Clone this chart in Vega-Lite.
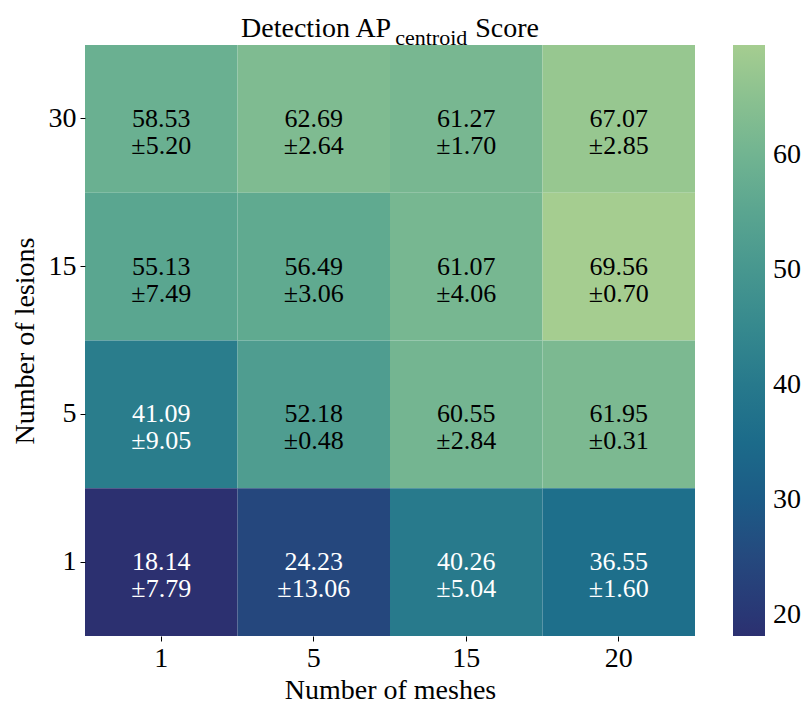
{
  "$schema": "https://vega.github.io/schema/vega-lite/v6.json",
  "autosize": "none",
  "padding": {"left": 85, "top": 45, "right": 108, "bottom": 68},
  "width": 610,
  "height": 591,
  "background": "white",
  "title": {
    "text": "Detection AP\u00a0\u00a0\u00a0\u00a0\u00a0\u00a0\u00a0\u00a0\u00a0\u00a0\u00a0\u00a0Score",
    "subtitle": "\u200b\u00a0\u00a0\u00a0\u00a0\u00a0\u00a0\u00a0\u00a0\u00a0\u00a0\u00a0\u00a0\u00a0\u00a0\u00a0centroid",
    "font": "Liberation Serif",
    "fontSize": 28,
    "fontWeight": "normal",
    "color": "black",
    "subtitleFont": "Liberation Serif",
    "subtitleFontSize": 22,
    "subtitleColor": "black",
    "subtitlePadding": -15,
    "anchor": "middle",
    "offset": -4
  },
  "data": {
    "values": [
      {"meshes": "1", "lesions": "30", "mean": 58.53, "label": "58.53\n±5.20"},
      {"meshes": "5", "lesions": "30", "mean": 62.69, "label": "62.69\n±2.64"},
      {"meshes": "15", "lesions": "30", "mean": 61.27, "label": "61.27\n±1.70"},
      {"meshes": "20", "lesions": "30", "mean": 67.07, "label": "67.07\n±2.85"},
      {"meshes": "1", "lesions": "15", "mean": 55.13, "label": "55.13\n±7.49"},
      {"meshes": "5", "lesions": "15", "mean": 56.49, "label": "56.49\n±3.06"},
      {"meshes": "15", "lesions": "15", "mean": 61.07, "label": "61.07\n±4.06"},
      {"meshes": "20", "lesions": "15", "mean": 69.56, "label": "69.56\n±0.70"},
      {"meshes": "1", "lesions": "5", "mean": 41.09, "label": "41.09\n±9.05"},
      {"meshes": "5", "lesions": "5", "mean": 52.18, "label": "52.18\n±0.48"},
      {"meshes": "15", "lesions": "5", "mean": 60.55, "label": "60.55\n±2.84"},
      {"meshes": "20", "lesions": "5", "mean": 61.95, "label": "61.95\n±0.31"},
      {"meshes": "1", "lesions": "1", "mean": 18.14, "label": "18.14\n±7.79"},
      {"meshes": "5", "lesions": "1", "mean": 24.23, "label": "24.23\n±13.06"},
      {"meshes": "15", "lesions": "1", "mean": 40.26, "label": "40.26\n±5.04"},
      {"meshes": "20", "lesions": "1", "mean": 36.55, "label": "36.55\n±1.60"}
    ]
  },
  "encoding": {
    "x": {
      "field": "meshes",
      "type": "ordinal",
      "sort": ["1", "5", "15", "20"],
      "scale": {"paddingInner": 0, "paddingOuter": 0},
      "axis": {
        "title": "Number of meshes",
        "labelAngle": 0,
        "domain": false,
        "ticks": true,
        "tickSize": 5,
        "tickColor": "black",
        "labelPadding": 3,
        "titlePadding": 4
      }
    },
    "y": {
      "field": "lesions",
      "type": "ordinal",
      "sort": ["30", "15", "5", "1"],
      "scale": {"paddingInner": 0, "paddingOuter": 0},
      "axis": {
        "title": "Number of lesions",
        "domain": false,
        "ticks": true,
        "tickSize": 5,
        "tickColor": "black",
        "labelPadding": 4,
        "titlePadding": 9
      }
    }
  },
  "layer": [
    {
      "mark": {"type": "rect", "strokeWidth": 0},
      "encoding": {
        "color": {
          "field": "mean",
          "type": "quantitative",
          "scale": {
            "domain": [18.14, 25.486, 32.831, 40.177, 47.523, 54.869, 62.214, 69.56],
            "range": ["#2c3070", "#254b7f", "#1c6488", "#287a8c", "#40908e", "#59a590", "#7dba91", "#a5cd90"],
            "nice": false,
            "zero": false
          },
          "legend": {
            "title": null,
            "orient": "right",
            "offset": 38,
            "padding": 0,
            "gradientLength": 591,
            "gradientThickness": 32,
            "gradientStrokeWidth": 0,
            "values": [20, 30, 40, 50, 60],
            "labelOverlap": false,
            "labelFont": "Liberation Serif",
            "labelFontSize": 28,
            "labelColor": "black",
            "labelOffset": 8
          }
        }
      }
    },
    {
      "mark": {
        "type": "text",
        "font": "Liberation Serif",
        "fontSize": 26,
        "lineBreak": "\n",
        "lineHeight": 27,
        "baseline": "middle",
        "align": "center"
      },
      "encoding": {
        "text": {"field": "label", "type": "nominal"},
        "color": {
          "condition": {"test": "datum.mean < 45", "value": "white"},
          "value": "black"
        }
      }
    }
  ],
  "config": {
    "view": {"stroke": null},
    "axis": {
      "labelFont": "Liberation Serif",
      "labelFontSize": 28,
      "labelColor": "black",
      "titleFont": "Liberation Serif",
      "titleFontSize": 28,
      "titleFontWeight": "normal",
      "titleColor": "black"
    }
  }
}
